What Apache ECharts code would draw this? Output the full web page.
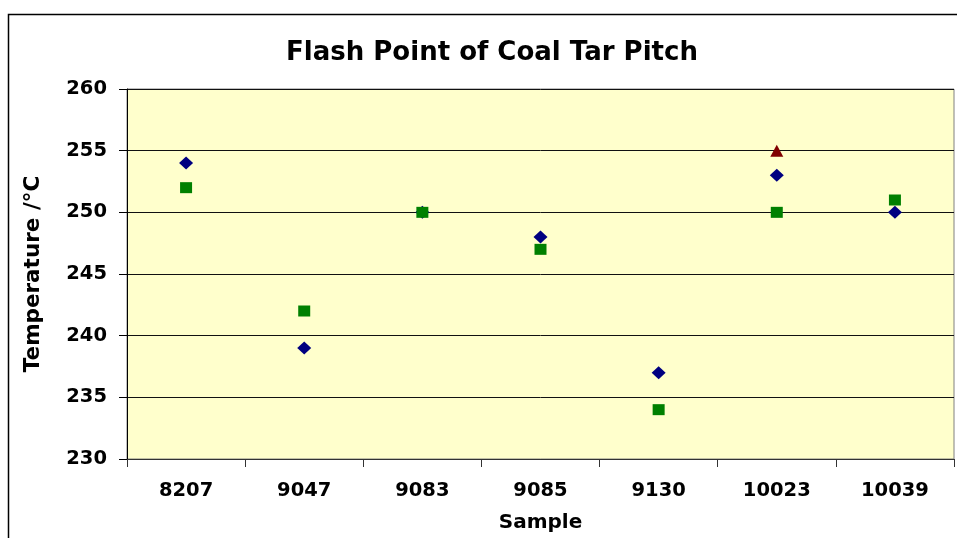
<!DOCTYPE html>
<html><head><meta charset="utf-8">
<script src="https://cdn.jsdelivr.net/npm/echarts@6/dist/echarts.min.js"></script>
<style>html,body{margin:0;padding:0;background:#fff}#c{width:957px;height:538px}</style>
</head><body><div id="c"></div>
<script>
const categories = ['8207','9047','9083','9085','9130','10023','10039'];
const seriesA = [254, 239, 250, 248, 237, 253, 250];
const seriesB = [252, 242, 250, 247, 234, 250, 251];
const seriesC = [null, null, null, null, null, 255, null];
const chart = echarts.init(document.getElementById('c'));
const font = 'DejaVu Sans, Arial, sans-serif';
chart.setOption({
  animation: false,
  backgroundColor: '#fff',
  title: { text: 'Flash Point of Coal Tar Pitch', left: 487, top: 35, textAlign: 'center',
    textStyle: { fontFamily: font, fontWeight: 'bold', fontSize: 26, color: '#000' } },
  graphic: [{ type: 'polyline', shape: { points: [[8.5, 560], [8.5, 14.5], [1000, 14.5]] },
    style: { stroke: '#000', lineWidth: 1.5, fill: null } }],
  grid: { left: 127, top: 89, right: 3, bottom: 77, show: true, backgroundColor: '#FFFFCC', borderColor: '#808080', borderWidth: 1 },
  xAxis: { type: 'category', data: categories, name: 'Sample', nameLocation: 'middle', nameGap: 54,
    nameTextStyle: { fontFamily: font, fontWeight: 'bold', fontSize: 20, color: '#000' },
    axisLine: { lineStyle: { color: '#333', width: 1 } },
    axisTick: { show: true, interval: 0, length: 8, lineStyle: { color: '#333' } },
    axisLabel: { interval: 0, margin: 22, fontFamily: font, fontWeight: 'bold', fontSize: 19.5, color: '#000' } },
  yAxis: { type: 'value', min: 230, max: 260, interval: 5, name: 'Temperature /°C', nameLocation: 'middle', nameGap: 83,
    nameTextStyle: { fontFamily: font, fontWeight: 'bold', fontSize: 21.5, color: '#000' },
    axisLine: { show: true, lineStyle: { color: '#000' } },
    axisTick: { show: true, length: 8, lineStyle: { color: '#000' } },
    axisLabel: { margin: 20, padding: [4, 0, 0, 0], fontFamily: font, fontWeight: 'bold', fontSize: 19.5, color: '#000' },
    splitLine: { lineStyle: { color: '#111', width: 1 } } },
  series: [
    { type: 'scatter', data: seriesA, symbol: 'diamond', symbolSize: [14, 13], itemStyle: { color: '#000080', opacity: 1 } },
    { type: 'scatter', data: seriesB, symbol: 'rect', symbolSize: [12, 11], itemStyle: { color: '#008000', opacity: 1 } },
    { type: 'scatter', data: seriesC, symbol: 'triangle', symbolSize: [13, 12], itemStyle: { color: '#800000', opacity: 1 } }
  ]
});
</script></body></html>
